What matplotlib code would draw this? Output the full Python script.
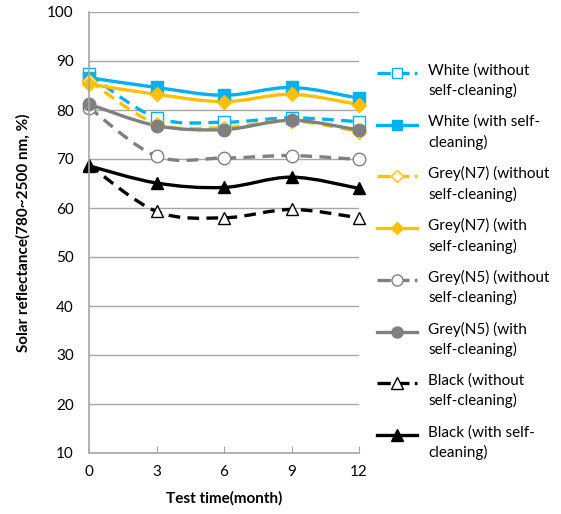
import numpy as np
import matplotlib.pyplot as plt
from matplotlib.path import Path
from matplotlib.patches import PathPatch
from matplotlib.lines import Line2D

plt.rcParams['font.family'] = ['Lato', 'DejaVu Sans']

# Dados
months = [0, 3, 6, 9, 12]

white_without = [87.3, 78.4, 77.5, 78.4, 77.6]
white_with = [86.6, 84.6, 83.0, 84.6, 82.4]
n7_without = [86.0, 77.2, 76.4, 77.8, 75.6]
n7_with = [85.3, 83.2, 81.7, 83.2, 81.1]
n5_without = [80.5, 70.6, 70.2, 70.7, 69.9]
n5_with = [81.2, 76.8, 76.0, 77.9, 75.9]
black_without = [68.8, 59.3, 58.0, 59.7, 58.0]
black_with = [68.6, 65.1, 64.2, 66.3, 64.0]

labels = ["White (without\nself-cleaning)", "White (with self-\ncleaning)",
          "Grey(N7) (without\nself-cleaning)", "Grey(N7) (with\nself-cleaning)",
          "Grey(N5) (without\nself-cleaning)", "Grey(N5) (with\nself-cleaning)",
          "Black (without\nself-cleaning)", "Black (with self-\ncleaning)"]

series = [white_without, white_with, n7_without, n7_with,
          n5_without, n5_with, black_without, black_with]

# estilo de cada série: cor, tracejado, marcador, preenchido?
styles = [("#00B0F0", True, "s", False), ("#00B0F0", False, "s", True),
          ("#FFC000", True, "D", False), ("#FFC000", False, "D", True),
          ("#808080", True, "o", False), ("#808080", False, "o", True),
          ("black", True, "^", False), ("black", False, "^", True)]

msizes = {"s": 8, "D": 7, "o": 9, "^": 9}


def smooth_path(x, y):
    # curva suave no estilo do Excel (Bezier cúbica)
    pts = np.column_stack([x, y]).astype(float)
    n = len(pts)
    verts = [pts[0]]
    codes = [Path.MOVETO]
    for i in range(n - 1):
        p0 = pts[max(i - 1, 0)]
        p1 = pts[i]
        p2 = pts[i + 1]
        p3 = pts[min(i + 2, n - 1)]
        c1 = p1 + (p2 - p0) / 6
        c2 = p2 - (p3 - p1) / 6
        verts += [c1, c2, p2]
        codes += [Path.CURVE4] * 3
    return Path(verts, codes)


W, H = 561, 514
fig = plt.figure(figsize=(W / 100, H / 100), dpi=100)
ax = fig.add_axes([89 / W, 1 - 453 / H, 270 / W, 441 / H])

for i, (y, (c, dashed, m, filled)) in enumerate(zip(series, styles)):
    ls = (0, (3.5, 2.2)) if dashed else "-"
    patch = PathPatch(smooth_path(months, y), fill=False, edgecolor=c,
                      lw=2.4, linestyle=ls, capstyle="butt")
    ax.add_patch(patch)
    fc = c if filled else "white"
    ax.plot(months, y, ls="none", marker=m, ms=msizes[m], mfc=fc, mec=c,
            mew=1.0, clip_on=False)

    # legenda feita à mão (marcador alinhado com a primeira linha do texto)
    yl = 1 - (73 + 51.7 * i) / H
    lls = (0, (4.0, 1.6)) if dashed else "-"
    fig.add_artist(Line2D([377 / W, 417 / W], [yl, yl], transform=fig.transFigure,
                          color=c, lw=2.4, linestyle=lls))
    fig.add_artist(Line2D([397 / W], [yl], transform=fig.transFigure,
                          ls="none", marker=m, ms=msizes[m] - 1, mfc=fc,
                          mec=c, mew=1.0))
    fig.text(428 / W, yl + 10 / H, labels[i], fontsize=11, va="top",
             ha="left", linespacing=1.45)

ax.set_xlim(0, 12)
ax.set_ylim(10, 100)
ax.set_xticks(months)
ax.set_yticks(np.arange(10, 101, 10))
ax.grid(axis="y", color="#A6A6A6", lw=1.0)
ax.set_axisbelow(True)
for s in ["top", "right"]:
    ax.spines[s].set_visible(False)
for s in ["left", "bottom"]:
    ax.spines[s].set_color("#A6A6A6")
    ax.spines[s].set_linewidth(1.2)
ax.tick_params(axis="x", direction="in", length=5, color="#A6A6A6",
               labelsize=11, pad=9)
ax.tick_params(axis="y", length=0, labelsize=11, pad=11)

ax.set_xlabel("Test time(month)", fontsize=11, fontweight="bold", labelpad=8)
ax.set_ylabel("Solar reflectance(780~2500 nm, %)", fontsize=11,
              fontweight="bold", labelpad=12)

plt.savefig("out.png", dpi=100)
